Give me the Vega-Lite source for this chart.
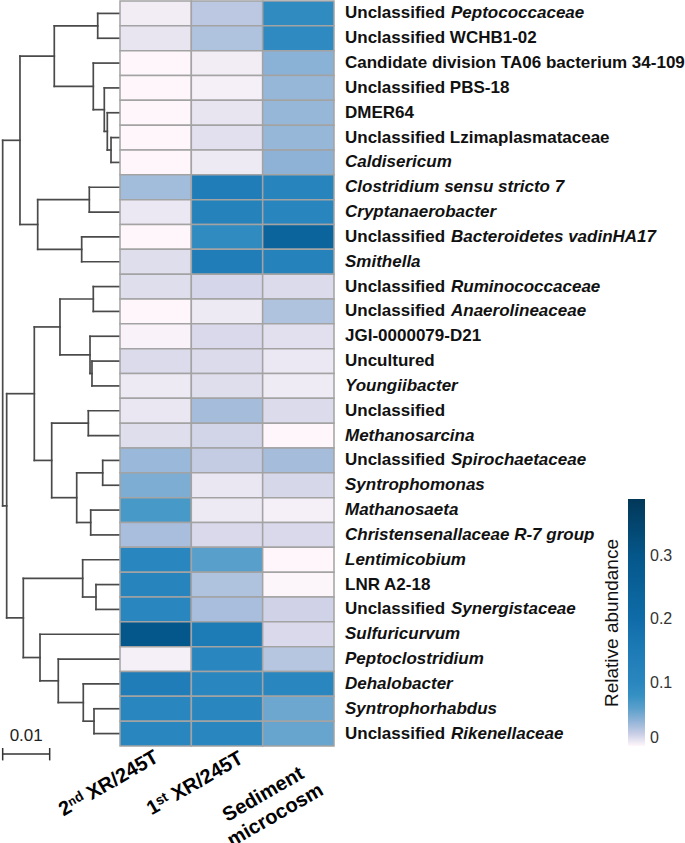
{
  "$schema": "https://vega.github.io/schema/vega-lite/v6.json",
  "padding": {"left": 0, "top": 0, "right": 0, "bottom": 15},
  "background": "white",
  "spacing": 0,
  "bounds": "flush",
  "config": {"view": {"stroke": null}, "font": "Liberation Sans"},
  "datasets": {
    "tree": [
      {"h1":0.00474,"h2":0.00474,"p1":0.5,"p2":1.5},
      {"h1":0.00191,"h2":0.00191,"p1":5.5,"p2":6.5},
      {"h1":0.0027,"h2":0.0027,"p1":4.5,"p2":6.0},
      {"h1":0.00334,"h2":0.00334,"p1":3.5,"p2":5.25},
      {"h1":0.00568,"h2":0.00568,"p1":2.5,"p2":4.375},
      {"h1":0.01398,"h2":0.01398,"p1":1.0,"p2":3.4375},
      {"h1":0.00653,"h2":0.00653,"p1":7.5,"p2":8.5},
      {"h1":0.00815,"h2":0.00815,"p1":9.5,"p2":10.5},
      {"h1":0.01751,"h2":0.01751,"p1":8.0,"p2":10.0},
      {"h1":0.02128,"h2":0.02128,"p1":2.219,"p2":9.0},
      {"h1":0.00568,"h2":0.00568,"p1":11.5,"p2":12.5},
      {"h1":0.00596,"h2":0.00596,"p1":14.5,"p2":15.5},
      {"h1":0.00638,"h2":0.00638,"p1":13.5,"p2":15.0},
      {"h1":0.01277,"h2":0.01277,"p1":12.0,"p2":14.25},
      {"h1":0.00674,"h2":0.00674,"p1":16.5,"p2":17.5},
      {"h1":0.00368,"h2":0.00368,"p1":18.5,"p2":19.5},
      {"h1":0.00623,"h2":0.00623,"p1":20.5,"p2":21.5},
      {"h1":0.00921,"h2":0.00921,"p1":19.0,"p2":21.0},
      {"h1":0.01453,"h2":0.01453,"p1":17.0,"p2":20.0},
      {"h1":0.01823,"h2":0.01823,"p1":13.125,"p2":18.5},
      {"h1":0.00511,"h2":0.00511,"p1":23.5,"p2":24.5},
      {"h1":0.00794,"h2":0.00794,"p1":22.5,"p2":24.0},
      {"h1":0.00553,"h2":0.00553,"p1":28.5,"p2":29.5},
      {"h1":0.00781,"h2":0.00781,"p1":27.5,"p2":29.0},
      {"h1":0.01313,"h2":0.01313,"p1":26.5,"p2":28.25},
      {"h1":0.01702,"h2":0.01702,"p1":25.5,"p2":27.375},
      {"h1":0.02057,"h2":0.02057,"p1":23.25,"p2":26.4375},
      {"h1":0.02411,"h2":0.02411,"p1":15.8125,"p2":24.84},
      {"h1":0.02496,"h2":0.02496,"p1":5.61,"p2":20.33},
      {"h1":0,"h2":0.00474,"p1":0.5,"p2":0.5},
      {"h1":0,"h2":0.00474,"p1":1.5,"p2":1.5},
      {"h1":0,"h2":0.00568,"p1":2.5,"p2":2.5},
      {"h1":0,"h2":0.00334,"p1":3.5,"p2":3.5},
      {"h1":0,"h2":0.0027,"p1":4.5,"p2":4.5},
      {"h1":0,"h2":0.00191,"p1":5.5,"p2":5.5},
      {"h1":0,"h2":0.00191,"p1":6.5,"p2":6.5},
      {"h1":0.00474,"h2":0.01398,"p1":1.0,"p2":1.0},
      {"h1":0.00191,"h2":0.0027,"p1":6.0,"p2":6.0},
      {"h1":0.0027,"h2":0.00334,"p1":5.25,"p2":5.25},
      {"h1":0.00334,"h2":0.00568,"p1":4.375,"p2":4.375},
      {"h1":0.00568,"h2":0.01398,"p1":3.4375,"p2":3.4375},
      {"h1":0.01398,"h2":0.02128,"p1":2.219,"p2":2.219},
      {"h1":0,"h2":0.00653,"p1":7.5,"p2":7.5},
      {"h1":0,"h2":0.00653,"p1":8.5,"p2":8.5},
      {"h1":0,"h2":0.00815,"p1":9.5,"p2":9.5},
      {"h1":0,"h2":0.00815,"p1":10.5,"p2":10.5},
      {"h1":0.00653,"h2":0.01751,"p1":8.0,"p2":8.0},
      {"h1":0.00815,"h2":0.01751,"p1":10.0,"p2":10.0},
      {"h1":0.01751,"h2":0.02128,"p1":9.0,"p2":9.0},
      {"h1":0.02128,"h2":0.02496,"p1":5.61,"p2":5.61},
      {"h1":0,"h2":0.00568,"p1":11.5,"p2":11.5},
      {"h1":0,"h2":0.00568,"p1":12.5,"p2":12.5},
      {"h1":0,"h2":0.00638,"p1":13.5,"p2":13.5},
      {"h1":0,"h2":0.00596,"p1":14.5,"p2":14.5},
      {"h1":0,"h2":0.00596,"p1":15.5,"p2":15.5},
      {"h1":0.00596,"h2":0.00638,"p1":15.0,"p2":15.0},
      {"h1":0.00568,"h2":0.01277,"p1":12.0,"p2":12.0},
      {"h1":0.00638,"h2":0.01277,"p1":14.25,"p2":14.25},
      {"h1":0.01277,"h2":0.01823,"p1":13.125,"p2":13.125},
      {"h1":0,"h2":0.00674,"p1":16.5,"p2":16.5},
      {"h1":0,"h2":0.00674,"p1":17.5,"p2":17.5},
      {"h1":0,"h2":0.00368,"p1":18.5,"p2":18.5},
      {"h1":0,"h2":0.00368,"p1":19.5,"p2":19.5},
      {"h1":0,"h2":0.00623,"p1":20.5,"p2":20.5},
      {"h1":0,"h2":0.00623,"p1":21.5,"p2":21.5},
      {"h1":0.00368,"h2":0.00921,"p1":19.0,"p2":19.0},
      {"h1":0.00623,"h2":0.00921,"p1":21.0,"p2":21.0},
      {"h1":0.00674,"h2":0.01453,"p1":17.0,"p2":17.0},
      {"h1":0.00921,"h2":0.01453,"p1":20.0,"p2":20.0},
      {"h1":0.01453,"h2":0.01823,"p1":18.5,"p2":18.5},
      {"h1":0.01823,"h2":0.02411,"p1":15.8125,"p2":15.8125},
      {"h1":0,"h2":0.00794,"p1":22.5,"p2":22.5},
      {"h1":0,"h2":0.00511,"p1":23.5,"p2":23.5},
      {"h1":0,"h2":0.00511,"p1":24.5,"p2":24.5},
      {"h1":0.00511,"h2":0.00794,"p1":24.0,"p2":24.0},
      {"h1":0.00794,"h2":0.02057,"p1":23.25,"p2":23.25},
      {"h1":0,"h2":0.01702,"p1":25.5,"p2":25.5},
      {"h1":0,"h2":0.01313,"p1":26.5,"p2":26.5},
      {"h1":0,"h2":0.00781,"p1":27.5,"p2":27.5},
      {"h1":0,"h2":0.00553,"p1":28.5,"p2":28.5},
      {"h1":0,"h2":0.00553,"p1":29.5,"p2":29.5},
      {"h1":0.00553,"h2":0.00781,"p1":29.0,"p2":29.0},
      {"h1":0.00781,"h2":0.01313,"p1":28.25,"p2":28.25},
      {"h1":0.01313,"h2":0.01702,"p1":27.375,"p2":27.375},
      {"h1":0.01702,"h2":0.02057,"p1":26.4375,"p2":26.4375},
      {"h1":0.02057,"h2":0.02411,"p1":24.84,"p2":24.84},
      {"h1":0.02411,"h2":0.02496,"p1":20.33,"p2":20.33}
    ],
    "bar": [
      {"h1":0.02496,"h2":0.01496,"p1":30.32,"p2":30.32},
      {"h1":0.02496,"h2":0.02496,"p1":30.08,"p2":30.58},
      {"h1":0.01496,"h2":0.01496,"p1":30.08,"p2":30.58}
    ],
    "taxa": [
      {"i":1,"plain":"Unclassified","ital":"Peptococcaceae","s2":0.0045,"s1":0.024,"sed":0.09},
      {"i":2,"plain":"Unclassified WCHB1-02","ital":"","s2":0.008,"s1":0.028,"sed":0.093},
      {"i":3,"plain":"Candidate division TA06 bacterium 34-109","ital":"","s2":0.0005,"s1":0.0045,"sed":0.042},
      {"i":4,"plain":"Unclassified PBS-18","ital":"","s2":0.0005,"s1":0.0035,"sed":0.037},
      {"i":5,"plain":"DMER64","ital":"","s2":0.0005,"s1":0.008,"sed":0.037},
      {"i":6,"plain":"Unclassified Lzimaplasmataceae","ital":"","s2":0.0005,"s1":0.01,"sed":0.037},
      {"i":7,"plain":"","ital":"Caldisericum","s2":0.0005,"s1":0.006,"sed":0.041},
      {"i":8,"plain":"","ital":"Clostridium sensu stricto 7","s2":0.033,"s1":0.14,"sed":0.11},
      {"i":9,"plain":"","ital":"Cryptanaerobacter","s2":0.0065,"s1":0.12,"sed":0.105},
      {"i":10,"plain":"Unclassified","ital":"Bacteroidetes vadinHA17","s2":0.0005,"s1":0.09,"sed":0.24},
      {"i":11,"plain":"","ital":"Smithella","s2":0.011,"s1":0.14,"sed":0.12},
      {"i":12,"plain":"Unclassified","ital":"Ruminococcaceae","s2":0.011,"s1":0.015,"sed":0.012},
      {"i":13,"plain":"Unclassified","ital":"Anaerolineaceae","s2":0.0005,"s1":0.006,"sed":0.028},
      {"i":14,"plain":"JGI-0000079-D21","ital":"","s2":0.002,"s1":0.013,"sed":0.01},
      {"i":15,"plain":"Uncultured","ital":"","s2":0.012,"s1":0.012,"sed":0.0065},
      {"i":16,"plain":"","ital":"Youngiibacter","s2":0.006,"s1":0.011,"sed":0.0055},
      {"i":17,"plain":"Unclassified","ital":"","s2":0.007,"s1":0.032,"sed":0.012},
      {"i":18,"plain":"","ital":"Methanosarcina","s2":0.011,"s1":0.016,"sed":0.0005},
      {"i":19,"plain":"Unclassified","ital":"Spirochaetaceae","s2":0.036,"s1":0.021,"sed":0.032},
      {"i":20,"plain":"","ital":"Syntrophomonas","s2":0.047,"s1":0.007,"sed":0.014},
      {"i":21,"plain":"","ital":"Mathanosaeta","s2":0.067,"s1":0.006,"sed":0.0035},
      {"i":22,"plain":"","ital":"Christensenallaceae R-7 group","s2":0.031,"s1":0.013,"sed":0.013},
      {"i":23,"plain":"","ital":"Lentimicobium","s2":0.1,"s1":0.06,"sed":0.0005},
      {"i":24,"plain":"LNR A2-18","ital":"","s2":0.11,"s1":0.028,"sed":0.001},
      {"i":25,"plain":"Unclassified","ital":"Synergistaceae","s2":0.1,"s1":0.031,"sed":0.017},
      {"i":26,"plain":"","ital":"Sulfuricurvum","s2":0.3,"s1":0.15,"sed":0.013},
      {"i":27,"plain":"","ital":"Peptoclostridium","s2":0.0035,"s1":0.1,"sed":0.026},
      {"i":28,"plain":"","ital":"Dehalobacter","s2":0.14,"s1":0.1,"sed":0.1},
      {"i":29,"plain":"","ital":"Syntrophorhabdus","s2":0.1,"s1":0.1,"sed":0.053},
      {"i":30,"plain":"Unclassified","ital":"Rikenellaceae","s2":0.1,"s1":0.1,"sed":0.055}
    ]
  },
  "hconcat": [
    {
      "width": 120,
      "height": 745,
      "layer": [
        {
          "data": {"name": "tree"},
          "mark": {"type": "rule", "color": "#4a4a4a", "strokeWidth": 1.7, "strokeCap": "square"},
          "encoding": {
            "x": {"field": "h1", "type": "quantitative", "scale": {"domain": [0, 0.02553], "reverse": true, "nice": false, "zero": false}, "axis": null},
            "x2": {"field": "h2"},
            "y": {"field": "p1", "type": "quantitative", "scale": {"domain": [0, 30], "reverse": true, "nice": false, "zero": false}, "axis": null},
            "y2": {"field": "p2"}
          }
        },
        {
          "data": {"name": "bar"},
          "mark": {"type": "rule", "color": "#333333", "strokeWidth": 1.5},
          "encoding": {
            "x": {"field": "h1", "type": "quantitative"},
            "x2": {"field": "h2"},
            "y": {"field": "p1", "type": "quantitative"},
            "y2": {"field": "p2"}
          }
        },
        {
          "data": {"values": [{"h": 0.01996, "p": 29.95, "t": "0.01"}]},
          "mark": {"type": "text", "fontSize": 17, "baseline": "bottom", "align": "center", "color": "#222222"},
          "encoding": {
            "x": {"field": "h", "type": "quantitative"},
            "y": {"field": "p", "type": "quantitative"},
            "text": {"field": "t"}
          }
        }
      ]
    },
    {
      "width": 214,
      "height": 745,
      "data": {"name": "taxa"},
      "layer": [
        {
          "transform": [{"fold": ["s2", "s1", "sed"], "as": ["sample", "value"]}],
          "mark": {"type": "rect", "stroke": "#a3a3a3", "strokeWidth": 1.5},
          "encoding": {
            "x": {
              "field": "sample", "type": "nominal",
              "scale": {"domain": ["s2", "s1", "sed"], "paddingInner": 0, "paddingOuter": 0},
              "axis": {
                "title": null, "domain": false, "ticks": false,
                "labelAngle": -30, "labelAlign": "center", "labelBaseline": "middle",
                "labelPadding": {"condition": {"test": "datum.value == 'sed'", "value": 48}, "value": 37},
                "labelOffset": {"condition": [{"test": "datum.value == 's2'", "value": -47}, {"test": "datum.value == 's1'", "value": -32}], "value": -35},
                "labelFontSize": 20,
                "labelFontWeight": "bold", "labelColor": "#000000", "labelFont": "Liberation Sans",
                "labelLineHeight": 24, "labelLimit": 400, "labelOverlap": false,
                "labelExpr": "datum.value == 's2' ? '2ⁿᵈ XR/245T' : datum.value == 's1' ? '1ˢᵗ XR/245T' : ['Sediment', 'microcosm']"
              }
            },
            "y": {"field": "i", "type": "ordinal", "scale": {"paddingInner": 0, "paddingOuter": 0}, "axis": null},
            "color": {
              "field": "value", "type": "quantitative",
              "scale": {
                "type": "linear",
                "interpolate": "rgb",
                "domain": [0, 0.004, 0.008, 0.012, 0.018, 0.025, 0.032, 0.04, 0.05, 0.065, 0.08, 0.1, 0.15, 0.2, 0.3, 0.39],
                "range": ["#fff7fb", "#f3eef6", "#e8e5f1", "#dcdbec", "#cdd0e6", "#b9c7e1", "#a5bddb", "#8fb3d7", "#76aad1", "#4a9ac8", "#3590c3", "#2a86bf", "#1d7bb6", "#0f6ca8", "#04578a", "#023858"]
              },
              "legend": {
                "title": "Relative abundance",
                "orient": "none", "legendX": 603, "legendY": 498,
                "direction": "vertical",
                "gradientLength": 247, "gradientThickness": 17, "gradientStrokeWidth": 0,
                "values": [0, 0.1, 0.2, 0.3],
                "labelExpr": "datum.value == 0 ? '0' : format(datum.value, '.1f')",
                "labelFontSize": 16, "labelColor": "#333333", "labelOffset": 5,
                "titleOrient": "left", "titleAngle": 270, "titleFontSize": 19,
                "titleBaseline": "bottom",
                "titleFontWeight": "normal", "titleColor": "#111111", "titlePadding": -14,
                "titleAnchor": "middle"
              }
            }
          }
        },
        {
          "mark": {"type": "text", "align": "left", "baseline": "middle", "dx": 11, "fontSize": 17, "fontWeight": "bold", "color": "#111111"},
          "encoding": {
            "x": {"datum": "sed", "type": "nominal", "bandPosition": 1},
            "y": {"field": "i", "type": "ordinal"},
            "text": {"field": "plain"}
          }
        },
        {
          "transform": [{"filter": "datum.plain != '' && datum.ital != ''"}],
          "mark": {"type": "text", "align": "left", "baseline": "middle", "dx": 117, "fontSize": 17, "fontWeight": "bold", "fontStyle": "italic", "color": "#111111"},
          "encoding": {
            "x": {"datum": "sed", "type": "nominal", "bandPosition": 1},
            "y": {"field": "i", "type": "ordinal"},
            "text": {"field": "ital"}
          }
        },
        {
          "transform": [{"filter": "datum.plain == ''"}],
          "mark": {"type": "text", "align": "left", "baseline": "middle", "dx": 11, "fontSize": 17, "fontWeight": "bold", "fontStyle": "italic", "color": "#111111"},
          "encoding": {
            "x": {"datum": "sed", "type": "nominal", "bandPosition": 1},
            "y": {"field": "i", "type": "ordinal"},
            "text": {"field": "ital"}
          }
        }
      ]
    }
  ]
}
